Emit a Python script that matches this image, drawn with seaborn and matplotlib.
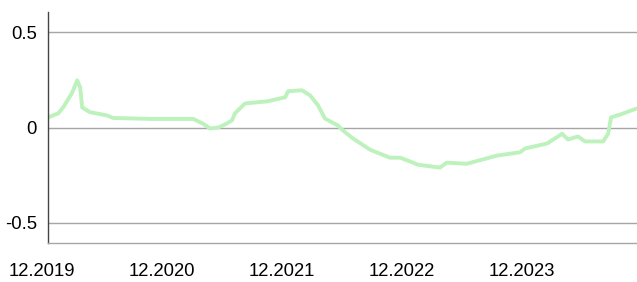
import matplotlib
matplotlib.use("Agg")
import matplotlib.pyplot as plt
import matplotlib.dates as mdates
import matplotlib.transforms as mtransforms
import seaborn as sns
import pandas as pd

dates = [
    "2019-12-19", "2020-01-19", "2020-02-03", "2020-03-01", "2020-03-17",
    "2020-03-26", "2020-04-01", "2020-04-25", "2020-06-16", "2020-07-04",
    "2020-10-25", "2021-03-05", "2021-04-04", "2021-04-25", "2021-05-20",
    "2021-06-10", "2021-07-01", "2021-07-10", "2021-08-10", "2021-10-16",
    "2021-12-10", "2021-12-19", "2022-01-30", "2022-02-24", "2022-03-20",
    "2022-04-10", "2022-05-20", "2022-06-04", "2022-07-05", "2022-08-25",
    "2022-10-25", "2022-11-25", "2023-01-03", "2023-01-18", "2023-03-26",
    "2023-04-16", "2023-06-16", "2023-09-16", "2023-11-25", "2023-12-10",
    "2024-02-15", "2024-04-01", "2024-04-19", "2024-05-19", "2024-06-10",
    "2024-08-04", "2024-08-19", "2024-08-28", "2024-09-25", "2024-11-15",
]
values = [
    0.053, 0.074, 0.105, 0.180, 0.247,
    0.210, 0.105, 0.080, 0.063, 0.050,
    0.045, 0.045, 0.020, -0.005, 0.000,
    0.016, 0.037, 0.074, 0.126, 0.137,
    0.158, 0.190, 0.195, 0.168, 0.116,
    0.047, 0.010, -0.016, -0.058, -0.116,
    -0.158, -0.158, -0.184, -0.195, -0.210,
    -0.184, -0.190, -0.147, -0.130, -0.110,
    -0.084, -0.033, -0.063, -0.047, -0.073,
    -0.073, -0.033, 0.053, 0.068, 0.100,
]
x_tick_dates = ["2019-12-01", "2020-12-01", "2021-12-01", "2022-12-01", "2023-12-01"]
x_tick_labels = ["12.2019", "12.2020", "12.2021", "12.2022", "12.2023"]
y_ticks = [-0.5, 0, 0.5]
y_tick_labels = ["-0.5", "0", "0.5"]

sns.set_theme(style="white")
plt.rcParams["font.family"] = ["Liberation Sans", "DejaVu Sans"]

df = pd.DataFrame({"date": pd.to_datetime(dates), "value": values})

fig = plt.figure(figsize=(6.37, 2.82), dpi=100)
ax = fig.add_axes([48 / 637, 39 / 282, 589 / 637, 231 / 282])

sns.lineplot(data=df, x="date", y="value", ax=ax, color="#bdf2bd", linewidth=2.8)

ax.set_xlim(pd.Timestamp("2019-12-19"), pd.Timestamp("2024-11-15"))
ax.set_ylim(-0.605, 0.605)
ax.set_yticks(y_ticks)
ax.set_yticklabels(y_tick_labels, fontsize=13.3, color="#000000")
ax.set_xticks([])
ax.set_xlabel("")
ax.set_ylabel("")
ax.tick_params(axis="y", length=0, pad=8)
for y in y_ticks:
    ax.axhline(y, color="#a6a6a6", linewidth=1, zorder=0)

for s in ["top", "right"]:
    ax.spines[s].set_visible(False)
ax.spines["left"].set_color("#444444")
ax.spines["left"].set_linewidth(1)
ax.spines["bottom"].set_color("#a6a6a6")
ax.spines["bottom"].set_linewidth(1)

trans = mtransforms.blended_transform_factory(ax.transData, ax.transAxes)
for d, lab in zip(x_tick_dates, x_tick_labels):
    ax.text(mdates.date2num(pd.Timestamp(d)), -0.125, lab, transform=trans,
            ha="center", va="center", fontsize=13.3, color="#000000", clip_on=False)

fig.savefig("out.png", dpi=100)
